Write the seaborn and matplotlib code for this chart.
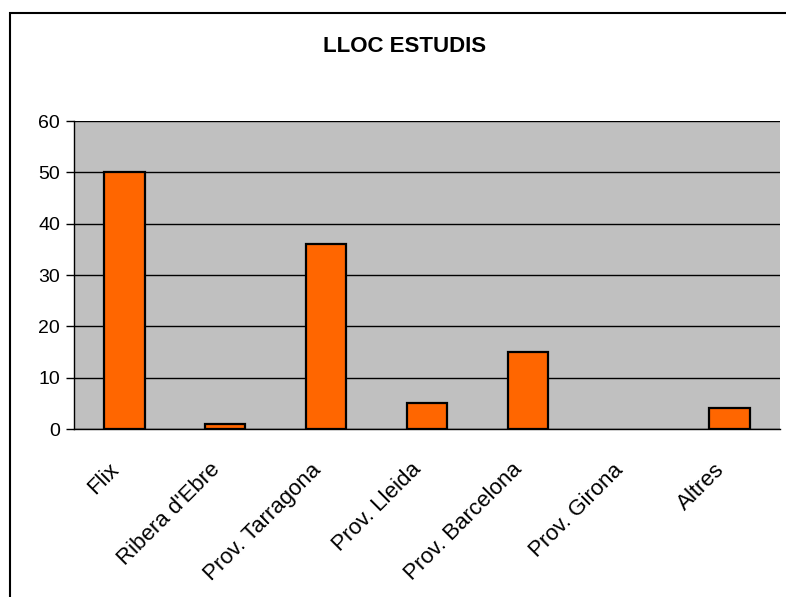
import matplotlib
matplotlib.use('Agg')
import matplotlib.pyplot as plt
import matplotlib.transforms as mtransforms
import seaborn as sns
import pandas as pd
from matplotlib.patches import Rectangle

# Data
categories = ['Flix', "Ribera d'Ebre", 'Prov. Tarragona', 'Prov. Lleida',
              'Prov. Barcelona', 'Prov. Girona', 'Altres']
values = [50, 1, 36, 5, 15, 0, 4]
y_ticks = [0, 10, 20, 30, 40, 50, 60]

df = pd.DataFrame({'lloc': categories, 'n': values})

sns.set_style('white')
plt.rcParams['font.family'] = ['Liberation Sans', 'DejaVu Sans']
plt.rcParams['text.color'] = 'black'
plt.rcParams['xtick.color'] = 'black'
plt.rcParams['ytick.color'] = 'black'
plt.rcParams['xtick.labelcolor'] = 'black'
plt.rcParams['ytick.labelcolor'] = 'black'

fig = plt.figure(figsize=(7.86, 5.97), dpi=100)
ax = fig.add_axes([74 / 786, 1 - 429 / 597, (780 - 74) / 786, (429 - 121) / 597])
ax.set_facecolor('#C0C0C0')

sns.barplot(data=df, x='lloc', y='n', color='#FF6600', edgecolor='black',
            linewidth=1.6, width=0.4, saturation=1, ax=ax, zorder=3)
# Excel draws nothing for empty categories
for p in ax.patches:
    if p.get_height() == 0:
        p.set_visible(False)

ax.set_xlim(-0.5, len(categories) - 0.5)
ax.set_ylim(0, 60)
ax.set_yticks(y_ticks)
ax.yaxis.grid(True, color='black', linewidth=1)
ax.set_axisbelow(True)

# ticks at category boundaries, labels at category centres
ax.set_xticks([i - 0.5 for i in range(len(categories) + 1)])
ax.set_xticklabels([])
ax.set_xticks(range(len(categories)), minor=True)
ax.set_xticklabels(categories, minor=True, rotation=45, ha='right',
                   rotation_mode='anchor', fontsize=16)
ax.tick_params(axis='x', which='minor', length=0, pad=16)
ax.tick_params(axis='x', which='major', length=6, width=1, color='black', direction='out')
ax.tick_params(axis='y', length=6, width=1, color='black', direction='out',
               labelsize=14, pad=4, left=True)

# nudge the slanted labels left and down like Excel does
shift = mtransforms.ScaledTranslation(-16 / 100, -8 / 100, fig.dpi_scale_trans)
for lab in ax.get_xticklabels(minor=True):
    lab.set_transform(lab.get_transform() + shift)

for s in ['top', 'right']:
    ax.spines[s].set_visible(False)
for s in ['left', 'bottom']:
    ax.spines[s].set_color('black')
    ax.spines[s].set_linewidth(1)

ax.set_xlabel('')
ax.set_ylabel('')

fig.text(405 / 786, 1 - 47 / 597, 'LLOC ESTUDIS', ha='center', va='center',
         fontsize=16, fontweight='bold')

# chart frame
fig.patches.append(Rectangle((10 / 786, -0.1), 1.2, 1 - 13 / 597 + 0.1,
                             transform=fig.transFigure, fill=False,
                             edgecolor='black', linewidth=1.5))

plt.savefig('out.png', dpi=100)
